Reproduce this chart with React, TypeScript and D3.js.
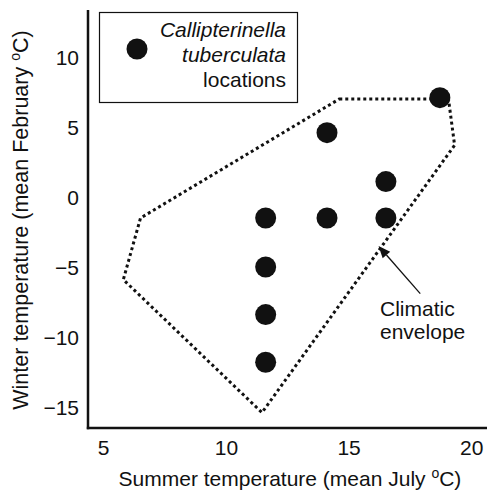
import React from "react";
import * as d3 from "d3";

// Occurrence sites: mean July (x) vs mean February (y) temperature, °C
const siteSummer = [11.6, 11.6, 11.6, 11.6, 14.1, 14.1, 16.5, 16.5, 18.7];
const siteWinter = [-1.5, -5.0, -8.4, -11.8, 4.6, -1.5, 1.1, -1.5, 7.1];

// Climatic envelope polygon vertices
const envSummer = [14.6, 19.05, 19.3, 11.45, 5.8, 6.5];
const envWinter = [7.0, 7.0, 3.7, -15.4, -5.9, -1.5];

const xTicks = [5, 10, 15, 20];
const yTicks = [10, 5, 0, -5, -10, -15];

const W = 487;
const H = 491;
const left = 88;
const right = 487;
const top = 10;
const bottom = 428;

const FONT = "Liberation Sans, Arial, Helvetica, sans-serif";
const FS = 21;

export default function App() {
  const x = d3.scaleLinear().domain([4.36, 20.62]).range([left, right]);
  const y = d3.scaleLinear().domain([-16.5, 13.36]).range([bottom, top]);

  const envPts: [number, number][] = envSummer.map((s, i) => [x(s), y(envWinter[i])]);
  const envPath = d3.line().curve(d3.curveLinearClosed)(envPts) || "";

  // arrow from label to envelope edge
  const tip: [number, number] = [x(16.2), y(-3.5)];
  const tail: [number, number] = [x(17.9), y(-6.9)];
  const ang = Math.atan2(tip[1] - tail[1], tip[0] - tail[0]);
  const hl = 12;
  const hw = 5;
  const bx = tip[0] - hl * Math.cos(ang);
  const by = tip[1] - hl * Math.sin(ang);
  const head = [
    [tip[0], tip[1]],
    [bx + hw * Math.sin(ang), by - hw * Math.cos(ang)],
    [bx - hw * Math.sin(ang), by + hw * Math.cos(ang)],
  ];

  return (
    <svg
      width={W}
      height={H}
      style={{ position: "absolute", left: 0, top: 0, background: "#fff" }}
      fontFamily={FONT}
    >
      <rect width={W} height={H} fill="#fff" />

      {/* envelope */}
      <path
        d={envPath}
        fill="none"
        stroke="#111"
        strokeWidth={3}
        strokeDasharray="3 3"
      />

      {/* sites */}
      {siteSummer.map((s, i) => (
        <circle key={i} cx={x(s)} cy={y(siteWinter[i])} r={10.5} fill="#111" />
      ))}

      {/* axes */}
      <line x1={left} x2={left} y1={top} y2={bottom + 1.2} stroke="#111" strokeWidth={2.5} />
      <line x1={left - 1.2} x2={right} y1={bottom} y2={bottom} stroke="#111" strokeWidth={2.5} />

      {xTicks.map((t) => (
        <text key={t} x={x(t)} y={455} textAnchor="middle" fontSize={FS} fill="#111">
          {t}
        </text>
      ))}
      {yTicks.map((t) => (
        <text
          key={t}
          x={79}
          y={y(t)}
          dy="0.36em"
          textAnchor="end"
          fontSize={FS}
          fill="#111"
        >
          {t < 0 ? "\u2212" + Math.abs(t) : t}
        </text>
      ))}

      {/* axis titles */}
      <text x={290} y={486} textAnchor="middle" fontSize={FS} fill="#111">
        Summer temperature (mean July{" "}
        <tspan fontSize={14} dy={-8}>o</tspan>
        <tspan dy={8}>C)</tspan>
      </text>
      <text
        transform={`translate(28, 220) rotate(-90)`}
        textAnchor="middle"
        fontSize={FS + 0.5}
        fill="#111"
      >
        Winter temperature (mean February{" "}
        <tspan fontSize={14} dy={-8}>o</tspan>
        <tspan dy={8}>C)</tspan>
      </text>

      {/* legend */}
      <rect x={99.5} y={12.5} width={198} height={90} fill="#fff" stroke="#111" strokeWidth={1.2} />
      <circle cx={137} cy={49} r={10.5} fill="#111" />
      <text x={286} y={37} textAnchor="end" fontSize={FS} fontStyle="italic" fill="#111">
        Callipterinella
      </text>
      <text x={286} y={62} textAnchor="end" fontSize={FS} fontStyle="italic" fill="#111">
        tuberculata
      </text>
      <text x={286} y={87} textAnchor="end" fontSize={FS} fill="#111">
        locations
      </text>

      {/* envelope annotation */}
      <line x1={tail[0]} y1={tail[1]} x2={bx} y2={by} stroke="#111" strokeWidth={1.3} />
      <polygon points={head.map((p) => p.join(",")).join(" ")} fill="#111" />
      <text x={380} y={316} fontSize={FS} fill="#111">
        Climatic
      </text>
      <text x={380} y={339} fontSize={FS} fill="#111">
        envelope
      </text>
    </svg>
  );
}
